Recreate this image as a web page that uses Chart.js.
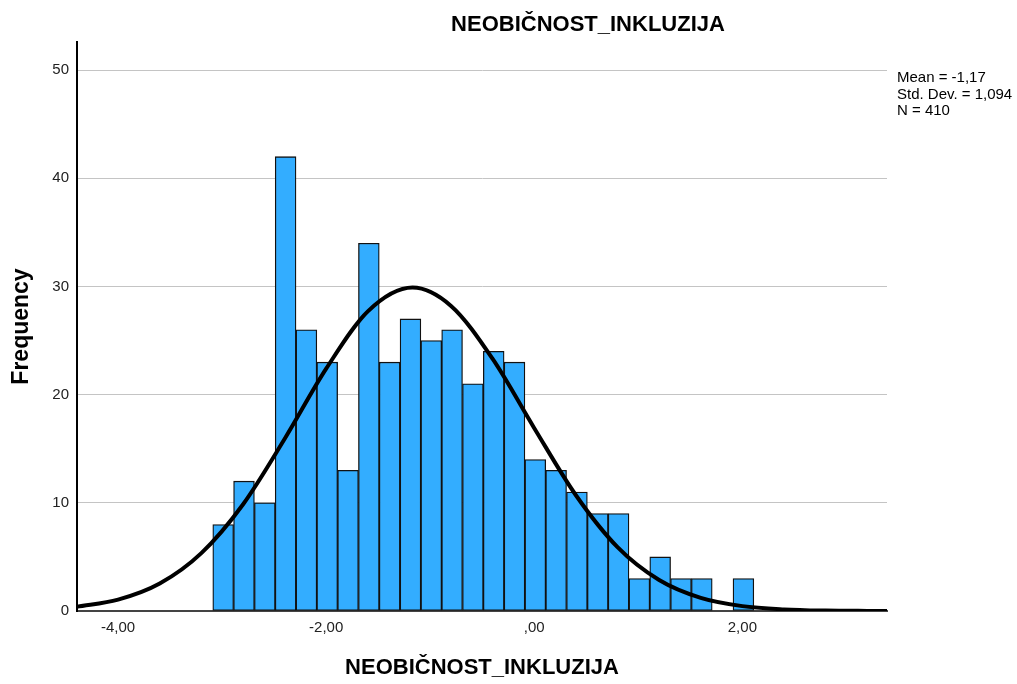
<!DOCTYPE html>
<html>
<head>
<meta charset="utf-8">
<title>NEOBIČNOST_INKLUZIJA</title>
<script src="https://cdn.jsdelivr.net/npm/chart.js@4.4.1/dist/chart.umd.min.js"></script>
<style>
    html, body { margin: 0; padding: 0; background: #fff; }
    #wrap { width: 1017px; height: 684px; }
</style>
</head>
<body>
<div id="wrap"><canvas id="histo" width="1017" height="684"></canvas></div>
<script>
// histogram bins (centre of each 0,2 wide bin) and their counts
const binCenters = [-2.99, -2.79, -2.59, -2.39, -2.19, -1.99, -1.79, -1.59, -1.39, -1.19,
                    -0.99, -0.79, -0.59, -0.39, -0.19, 0.01, 0.21, 0.41, 0.61, 0.81,
                    1.01, 1.21, 1.41, 1.61, 1.81, 2.01];
const binCounts = [8, 12, 10, 42, 26, 23, 13, 34, 23, 27,
                   25, 26, 21, 24, 23, 14, 13, 11, 9, 9,
                   3, 5, 3, 3, 0, 3];

// normal curve
const curveX = [-4.4, -4.0, -3.6, -3.2, -2.8, -2.4, -2.0, -1.6, -1.17, -0.8,
                -0.4, 0.0, 0.4, 0.8, 1.2, 1.6, 2.0, 2.4, 2.8, 3.2, 3.4];
const curveY = [0.38, 1.05, 2.54, 5.35, 9.85, 15.9, 22.4, 27.7, 29.9, 28.2,
                23.3, 16.9, 10.7, 5.9, 2.86, 1.21, 0.45, 0.15, 0.04, 0.01, 0.005];

const xTickValues = [-4, -2, 0, 2];
const xTickLabels = ['-4,00', '-2,00', ',00', '2,00'];
const yTickValues = [0, 10, 20, 30, 40, 50];

const chartTitle = 'NEOBIČNOST_INKLUZIJA';
const statsLines = ['Mean = -1,17', 'Std. Dev. = 1,094', 'N = 410'];

const FONT = '"Liberation Sans", Arial, sans-serif';

window.histoChart = {
    chart: null,

    // title above the plot + the statistics box on the right
    overlay: {
        id: 'overlayText',
        afterDraw: function(chart) {
            const ctx = chart.ctx;
            ctx.save();
            ctx.fillStyle = '#000';
            ctx.font = 'bold 22px ' + FONT;
            ctx.textAlign = 'center';
            ctx.textBaseline = 'middle';
            ctx.fillText(chartTitle, 588, 25);

            ctx.font = '15px ' + FONT;
            ctx.textAlign = 'left';
            statsLines.forEach((line, i) => {
                ctx.fillText(line, chart.chartArea.right + 10, 78 + i * 16.5);
            });
            ctx.restore();
        }
    },

    render: function() {
        const canvas = document.getElementById('histo');

        const bars = binCenters.map((x, i) => ({ x: x, y: binCounts[i] }));
        const curve = curveX.map((x, i) => ({ x: x, y: curveY[i] }));

        this.chart = new Chart(canvas, {
            type: 'bar',
            data: {
                datasets: [
                    {
                        type: 'line',
                        data: curve,
                        borderColor: '#000',
                        borderWidth: 4,
                        pointRadius: 0,
                        cubicInterpolationMode: 'monotone',
                        fill: false,
                        order: 0
                    },
                    {
                        type: 'bar',
                        data: bars,
                        backgroundColor: '#33adff',
                        borderColor: '#111',
                        borderWidth: 1.3,
                        borderSkipped: false,
                        barPercentage: 1,
                        categoryPercentage: 1,
                        order: 1
                    }
                ]
            },
            options: {
                responsive: false,
                animation: false,
                layout: { padding: { top: 42, right: 130, left: 0, bottom: 0 } },
                plugins: {
                    legend: { display: false },
                    tooltip: { enabled: false }
                },
                scales: {
                    x: {
                        type: 'linear',
                        offset: false,
                        min: -4.395,
                        max: 3.39,
                        afterBuildTicks: (scale) => { scale.ticks = xTickValues.map(v => ({ value: v })); },
                        afterFit: (scale) => { scale.height = 73; },
                        grid: { display: false, drawTicks: false },
                        border: { display: true, color: '#444', width: 2 },
                        ticks: {
                            padding: 8,
                            color: '#222',
                            font: { family: FONT, size: 15 },
                            maxRotation: 0,
                            callback: (value, index) => xTickLabels[index]
                        },
                        title: {
                            display: true,
                            text: chartTitle,
                            color: '#000',
                            font: { family: FONT, size: 22, weight: 'bold' },
                            padding: { top: 0, bottom: 3 }
                        }
                    },
                    y: {
                        min: 0,
                        max: 52.6,
                        afterBuildTicks: (scale) => { scale.ticks = yTickValues.map(v => ({ value: v })); },
                        afterFit: (scale) => { scale.width = 77; },
                        grid: { color: '#c4c4c4', lineWidth: 1, drawTicks: false },
                        border: { display: true, color: '#000', width: 2 },
                        ticks: {
                            padding: 8,
                            color: '#222',
                            font: { family: FONT, size: 15 }
                        },
                        title: {
                            display: true,
                            text: 'Frequency',
                            color: '#000',
                            font: { family: FONT, size: 23, weight: 'bold' },
                            padding: { top: 8, bottom: 0 }
                        }
                    }
                }
            },
            plugins: [this.overlay]
        });
    }
};

window.histoChart.render();
</script>
</body>
</html>
